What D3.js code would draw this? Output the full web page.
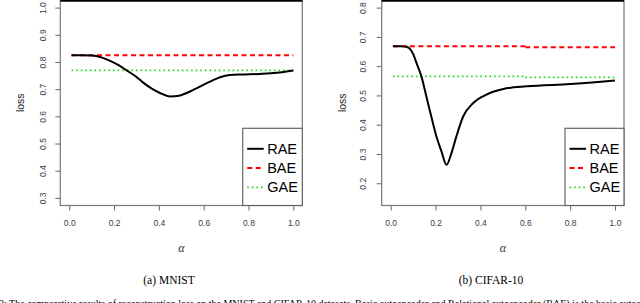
<!DOCTYPE html>
<html><head><meta charset="utf-8">
<script src="https://cdn.jsdelivr.net/npm/d3@7"></script>
<style>body{margin:0;background:#fff}svg{display:block}</style>
</head><body>
<svg id="c" width="640" height="303"></svg>
<script>
// ---- data ----
const alphaTicks = [0.0, 0.2, 0.4, 0.6, 0.8, 1.0];
const alphaTickLabels = ["0.0", "0.2", "0.4", "0.6", "0.8", "1.0"];

const mnistYTicks = [0.3, 0.4, 0.5, 0.6, 0.7, 0.8, 0.9, 1.0];
const mnistYLabels = ["0.3", "0.4", "0.5", "0.6", "0.7", "0.8", "0.9", "1.0"];
const mnistRAE = [[0.01,0.825],[0.05,0.825],[0.10,0.824],[0.12,0.822],[0.15,0.815],[0.18,0.805],[0.22,0.788],[0.256,0.769],[0.30,0.745],[0.33,0.724],[0.37,0.701],[0.405,0.686],[0.45,0.673],[0.49,0.676],[0.524,0.686],[0.56,0.700],[0.598,0.716],[0.64,0.732],[0.673,0.744],[0.717,0.752],[0.78,0.754],[0.85,0.756],[0.926,0.760],[1.0,0.769]];
const mnistBAE = [[[0.01,0.825],[1.0,0.825]]];
const mnistGAE = [[[0.01,0.769],[1.0,0.769]]];

const cifarYTicks = [0.2, 0.3, 0.4, 0.5, 0.6, 0.7, 0.8];
const cifarYLabels = ["0.2", "0.3", "0.4", "0.5", "0.6", "0.7", "0.8"];
const cifarRAE = [[0.01,0.668],[0.05,0.668],[0.07,0.666],[0.085,0.660],[0.10,0.642],[0.115,0.611],[0.137,0.565],[0.159,0.497],[0.181,0.428],[0.204,0.360],[0.226,0.310],[0.249,0.263],[0.271,0.303],[0.293,0.360],[0.323,0.428],[0.368,0.474],[0.427,0.503],[0.502,0.522],[0.606,0.531],[0.8,0.539],[1.0,0.551]];
const cifarBAE = [[[0.01,0.668],[0.6,0.668]],[[0.6,0.665],[1.0,0.665]]];
const cifarGAE = [[[0.01,0.565],[0.6,0.565]],[[0.6,0.562],[1.0,0.562]]];

const legendNames = ["RAE", "BAE", "GAE"];
const captions = ["(a) MNIST", "(b) CIFAR-10"];
const footText = "2: The comparative results of reconstruction loss on the MNIST and CIFAR-10 datasets. Basic autoencoder and Relational autoencoder (BAE) is the basic autoencoder t";

// ---- drawing ----
const svg = d3.select("#c");
const styles = {
  RAE: {stroke:"#000", width:2, dash:null},
  BAE: {stroke:"#ff0000", width:2, dash:"5,3.5"},
  GAE: {stroke:"#1fd81f", width:1.8, dash:"1.6,3"}
};

function panel(cfg) {
  const g = svg.append("g");
  const ext = (d) => { const r = d[1]-d[0]; return [d[0]-0.04*r, d[1]+0.04*r]; };
  const x = d3.scaleLinear().domain(ext([0,1])).range([cfg.left, cfg.right]);
  const y = d3.scaleLinear().domain(ext(cfg.ylim)).range([cfg.bottom, cfg.top]);

  const xa = g.append("g").attr("transform", `translate(0,${cfg.bottom})`)
    .call(d3.axisBottom(x).tickValues(alphaTicks).tickFormat((d,i)=>alphaTickLabels[i]).tickSize(5).tickPadding(9));
  const ya = g.append("g").attr("transform", `translate(${cfg.left},0)`)
    .call(d3.axisLeft(y).tickValues(cfg.yTicks).tickFormat((d,i)=>cfg.yLabels[i]).tickSize(5).tickPadding(0));
  [xa, ya].forEach(a => {
    a.select(".domain").remove();
    a.selectAll(".tick line").attr("stroke", "#666");
    a.selectAll(".tick text").attr("font-family", "Liberation Sans, Arial, sans-serif")
      .attr("font-size", 8.5).attr("fill", "#3a3a4a");
  });
  ya.selectAll(".tick text")
    .attr("text-anchor", "middle").attr("x", null).attr("dy", null)
    .attr("transform", d => `translate(${-cfg.ylabOff},0) rotate(-90)`)
    .attr("dominant-baseline", "central");

  g.append("rect").attr("x", cfg.left).attr("y", cfg.top).attr("width", cfg.right-cfg.left)
    .attr("height", cfg.bottom-cfg.top).attr("fill", "none").attr("stroke", "#777").attr("stroke-width", 1.2);
  g.append("line").attr("x1", cfg.left).attr("x2", cfg.right).attr("y1", cfg.top+0.5).attr("y2", cfg.top+0.5)
    .attr("stroke", "#000").attr("stroke-width", 2.5);

  const line = d3.line().x(d=>x(d[0])).y(d=>y(d[1])).curve(d3.curveMonotoneX);
  const seg = d3.line().x(d=>x(d[0])).y(d=>y(d[1]));
  const drawSeg = (segs, s) => segs.forEach(p => g.append("path").attr("d", seg(p)).attr("fill","none")
      .attr("stroke", s.stroke).attr("stroke-width", s.width).attr("stroke-dasharray", s.dash));
  drawSeg(cfg.bae, styles.BAE);
  drawSeg(cfg.gae, styles.GAE);
  g.append("path").attr("d", line(cfg.rae)).attr("fill","none").attr("stroke","#000").attr("stroke-width", 2);

  g.append("text").attr("transform", `translate(${cfg.lossX},${(cfg.top+cfg.bottom)/2}) rotate(-90)`)
    .attr("text-anchor","middle").attr("dominant-baseline","central")
    .attr("font-family","Liberation Sans, Arial, sans-serif").attr("font-size", 10.5).attr("fill","#222").text("loss");
  g.append("text").attr("x", (cfg.left+cfg.right)/2).attr("y", 252)
    .attr("text-anchor","middle").attr("font-family","Liberation Serif, serif").attr("font-style","italic")
    .attr("font-size", 12).attr("fill","#333").text("α");
  g.append("text").attr("x", cfg.capX).attr("y", 284)
    .attr("text-anchor","middle").attr("font-family","Liberation Serif, serif")
    .attr("font-size", 11.5).attr("fill","#000").text(cfg.caption);

  const lg = g.append("g");
  lg.append("rect").attr("x", cfg.legLeft).attr("y", cfg.legTop).attr("width", cfg.right-cfg.legLeft)
    .attr("height", cfg.bottom-cfg.legTop).attr("fill","#fff").attr("stroke","#666").attr("stroke-width",1.2);
  legendNames.forEach((n,i) => {
    const cy = cfg.legTop + 20.5 + i*19.3;
    const s = styles[n];
    lg.append("line").attr("x1", cfg.legLeft+4.5).attr("x2", cfg.legLeft+21).attr("y1", cy).attr("y2", cy)
      .attr("stroke", s.stroke).attr("stroke-width", s.width).attr("stroke-dasharray", s.dash);
    lg.append("text").attr("x", cfg.legLeft+24.5).attr("y", cy+5)
      .attr("font-family","Liberation Sans, Arial, sans-serif").attr("font-size", 14.5).attr("fill","#000").text(n);
  });
}

panel({left:60.3, right:302.3, top:0, bottom:205.5, ylim:[0.3,1.0], yTicks:mnistYTicks, yLabels:mnistYLabels,
  rae:mnistRAE, bae:mnistBAE, gae:mnistGAE, ylabOff:17, lossX:20, capX:169, caption:captions[0], legLeft:242.7, legTop:128.3});
panel({left:381.7, right:624, top:0, bottom:205.5, ylim:[0.15,0.8], yTicks:cifarYTicks, yLabels:cifarYLabels,
  rae:cifarRAE, bae:cifarBAE, gae:cifarGAE, ylabOff:18.4, lossX:341.7, capX:491, caption:captions[1], legLeft:565, legTop:128.3});

svg.append("text").attr("x", -1).attr("y", 307).attr("font-family","Liberation Serif, serif")
  .attr("font-size", 10).attr("fill","#000").text(footText);
</script>
</body></html>
